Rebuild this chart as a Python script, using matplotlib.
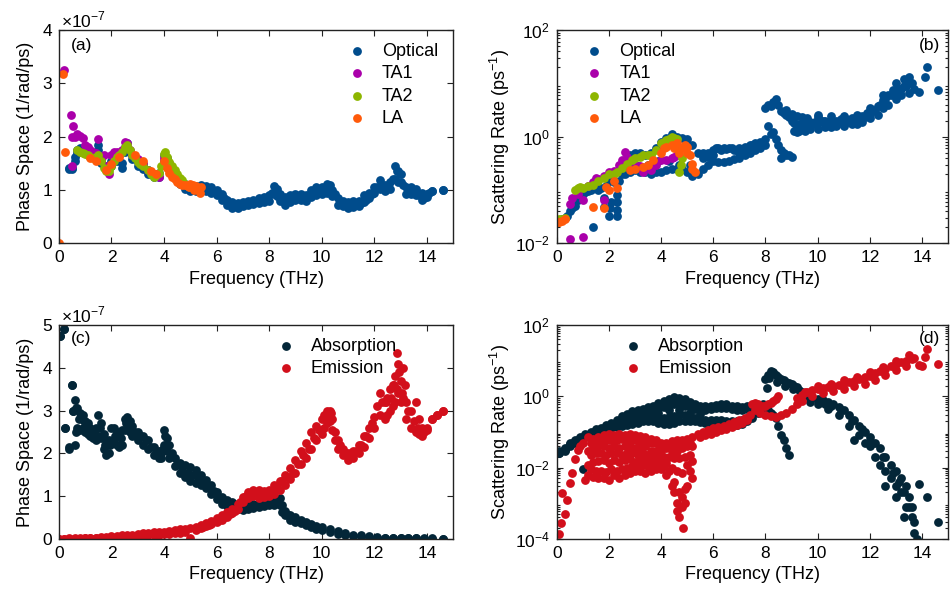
import numpy as np
import matplotlib.pyplot as plt
from matplotlib.ticker import LogLocator, NullFormatter

plt.rcParams['font.family'] = ['Liberation Sans', 'DejaVu Sans']
plt.rcParams['mathtext.fontset'] = 'custom'
plt.rcParams['mathtext.rm'] = 'Liberation Sans'

# ---------------- colours ----------------
C_OPT = '#004c8c'
C_TA1 = '#aa00aa'
C_TA2 = '#8db600'
C_LA = '#ff5a0a'
C_ABS = '#032638'
C_EMI = '#d20f1b'

# ============ (a) phase space per branch, units of 1e-7 ============
opt_a_f = [0.4, 0.5, 0.6, 0.7, 0.8, 1.0, 1.2, 1.4, 1.5, 1.6,
           1.8, 2.0, 2.2, 2.4, 2.5, 2.6, 2.8, 3.0, 3.2, 3.4,
           3.6, 3.8, 4.0, 4.1, 4.2, 4.4, 4.6, 4.8, 5.0, 5.2,
           5.4, 5.6, 5.8, 6.0, 6.2, 6.4, 6.6, 6.8, 7.0, 7.2,
           7.4, 7.6, 7.8, 8.0, 8.2, 8.3, 8.4, 8.6, 8.8, 9.0,
           9.2, 9.4, 9.6, 9.8, 10.0, 10.2, 10.3, 10.4, 10.6, 10.8,
           11.0, 11.2, 11.4, 11.6, 11.8, 12.0, 12.2, 12.4, 12.6, 12.8,
           12.9, 13.0, 13.2, 13.4, 13.6, 13.8, 14.0, 14.2, 14.6]
opt_a_hi = [1.42, 1.42, 1.62, 1.75, 1.78, 1.82, 1.72, 1.65, 1.85, 1.55,
            1.45, 1.55, 1.62, 1.5, 1.8, 1.88, 1.65, 1.52, 1.48, 1.38,
            1.3, 1.32, 1.65, 1.6, 1.48, 1.3, 1.2, 1.12, 1.08, 1.08,
            1.1, 1.08, 1.05, 1.0, 0.92, 0.82, 0.78, 0.75, 0.78, 0.8,
            0.82, 0.84, 0.86, 0.9, 1.08, 1.02, 0.92, 0.86, 0.9, 0.92,
            0.92, 0.9, 1.0, 1.05, 1.05, 1.12, 1.1, 1.0, 0.85, 0.8,
            0.78, 0.8, 0.8, 0.9, 0.95, 1.05, 1.18, 1.1, 1.15, 1.45,
            1.35, 1.3, 1.05, 1.05, 1.02, 0.95, 0.92, 0.98, 1.0]
opt_a_lo = [1.4, 1.4, 1.55, 1.7, 1.72, 1.75, 1.65, 1.58, 1.75, 1.5,
            1.4, 1.45, 1.55, 1.42, 1.72, 1.8, 1.58, 1.45, 1.4, 1.3,
            1.25, 1.25, 1.55, 1.5, 1.4, 1.22, 1.12, 1.02, 0.98, 0.98,
            1.0, 0.98, 0.95, 0.9, 0.82, 0.72, 0.66, 0.66, 0.7, 0.72,
            0.74, 0.76, 0.78, 0.8, 0.92, 0.88, 0.8, 0.72, 0.78, 0.82,
            0.82, 0.8, 0.86, 0.9, 0.92, 0.95, 0.98, 0.88, 0.72, 0.7,
            0.66, 0.68, 0.7, 0.78, 0.84, 0.94, 1.02, 0.98, 1.02, 1.2,
            1.15, 1.15, 0.92, 0.92, 0.9, 0.82, 0.86, 0.98, 1.0]
opt_a_mf = [5.5, 5.7, 5.9, 6.1, 6.3, 6.5, 6.7, 6.9, 7.1, 7.3,
            7.5, 7.7, 7.9, 8.1, 8.25, 8.5, 8.7, 8.9, 9.1, 9.3,
            9.5, 9.7, 9.9, 10.1, 10.25, 10.5, 10.7, 10.9, 11.1, 11.3,
            11.5, 11.7, 11.9, 12.1, 12.3, 12.5, 12.7, 12.85, 13.1, 13.3,
            13.5, 13.7, 13.9, 14.1]
opt_a_my = [1.02, 1.0, 0.98, 0.92, 0.85, 0.75, 0.7, 0.72, 0.75, 0.76,
            0.78, 0.8, 0.84, 0.95, 1.02, 0.82, 0.8, 0.86, 0.88, 0.86,
            0.9, 0.95, 1.0, 1.0, 1.08, 0.92, 0.78, 0.74, 0.7, 0.72,
            0.75, 0.82, 0.92, 1.05, 1.1, 1.05, 1.2, 1.35, 1.1, 0.98,
            0.95, 0.9, 0.85, 0.95]

ta1_a_f = [0.2, 0.45, 0.5, 0.55, 0.6, 0.7, 0.8, 0.9, 1.0, 1.1,
           1.2, 1.3, 1.4, 1.5, 1.6, 1.7, 1.8, 1.9, 2.0, 2.1,
           2.2, 2.3, 2.4, 2.5, 2.6, 2.7, 2.8, 3.0, 3.2, 3.4,
           3.6, 3.8, 4.0, 4.1, 4.2, 0.5]
ta1_a_y = [3.25, 2.4, 2.0, 2.2, 2.0, 2.05, 2.02, 1.98, 1.85, 1.8,
           1.75, 1.72, 1.7, 1.95, 1.6, 1.65, 1.45, 1.3, 1.65, 1.72,
           1.72, 1.7, 1.75, 1.9, 1.88, 1.75, 1.65, 1.58, 1.48, 1.38,
           1.3, 1.25, 1.6, 1.55, 1.5, 1.45]

ta2_a_f = [0.7, 0.8, 0.9, 1.0, 1.1, 1.2, 1.3, 1.4, 1.5, 1.6,
           1.7, 1.8, 1.9, 2.0, 2.1, 2.2, 2.3, 2.4, 2.5, 2.6,
           2.7, 2.8, 2.9, 3.0, 3.1, 3.2, 3.4, 3.5, 3.6, 3.7,
           3.8, 3.9, 4.0, 4.05, 4.1, 4.2, 4.3, 4.4, 4.5, 4.6,
           4.7, 4.8, 4.9, 5.0]
ta2_a_y = [1.75, 1.72, 1.7, 1.68, 1.65, 1.62, 1.6, 1.62, 1.65, 1.55,
           1.42, 1.35, 1.35, 1.45, 1.55, 1.62, 1.65, 1.72, 1.8, 1.85,
           1.75, 1.65, 1.6, 1.52, 1.48, 1.45, 1.38, 1.3, 1.25, 1.28,
           1.32, 1.45, 1.68, 1.72, 1.62, 1.52, 1.45, 1.38, 1.3, 1.22,
           1.18, 1.12, 1.08, 1.05]

la_a_f = [0.02, 0.15, 0.25, 1.2, 1.4, 1.8, 2.0, 2.3, 2.9, 3.2,
          3.5, 3.7, 4.0, 4.1, 4.2, 4.3, 4.4, 4.5, 4.6, 4.7,
          4.8, 4.9, 5.0, 5.1, 5.2, 5.3, 5.4, 4.95, 5.15, 5.35]
la_a_y = [0.0, 3.18, 1.72, 1.6, 1.55, 1.38, 1.48, 1.62, 1.65, 1.55,
          1.35, 1.3, 1.55, 1.42, 1.32, 1.25, 1.2, 1.15, 1.12, 1.1,
          1.1, 1.08, 1.12, 1.1, 1.08, 1.02, 1.05, 1.05, 1.0, 0.95]

# ============ (b) scattering rate per branch (1/ps) ============
opt_b_f = [0.1, 0.2, 0.3, 0.4, 0.5, 0.6, 0.7, 0.8, 0.9, 1.0,
           1.1, 1.2, 1.3, 1.4, 1.5, 1.6, 1.7, 1.8, 1.8, 1.9,
           2.0, 2.0, 2.05, 2.1, 2.2, 2.3, 2.3, 2.3, 2.3, 2.4,
           2.5, 2.6, 2.7,
           2.8, 3.0, 3.2, 3.4, 3.6, 3.8, 4.0, 4.2, 4.4, 4.6, 4.8, 5.0, 5.2, 5.4,
           2.6, 2.8, 3.0, 3.2, 3.4, 3.6, 3.8, 4.0, 4.2, 4.4, 4.6, 4.8, 5.0, 5.2,
           5.4, 5.6, 5.8,
           5.6, 5.8, 6.0, 6.2, 6.4, 6.6, 6.8, 7.0, 7.2, 7.4, 7.6, 7.8, 8.0, 8.2, 8.3,
           6.0, 6.2, 6.4, 6.6, 6.8, 7.0, 7.2, 7.4, 7.6, 7.8, 8.0,
           5.6, 5.8, 6.0, 7.0, 7.5, 7.9,
           8.4, 8.5, 8.6, 8.7, 8.8, 8.9, 9.0, 8.6,
           8.0, 8.1, 8.2, 8.3, 8.4, 8.5, 8.1, 8.6, 8.8, 9.0,
           9.2, 9.3, 9.5, 9.7, 9.9, 10.0, 10.2, 10.0, 10.4, 10.6,
           10.8, 11.0, 11.2, 11.4, 11.6, 11.8, 12.0, 12.2, 12.4, 12.6,
           12.8, 13.0, 13.2, 13.4, 13.6, 13.7, 13.9, 14.1, 14.2, 14.6,
           8.8, 9.0, 9.2, 9.4, 9.6, 10.0, 10.5, 11.0, 11.5, 12.0, 12.5, 13.0, 13.3, 13.5,
           9.2, 9.5, 10.0, 10.5, 11.0, 11.5, 12.0, 12.5, 13.0, 13.5,
           8.7, 8.9, 9.1, 9.3, 9.5, 9.7, 9.9, 10.1, 10.3, 10.5,
           10.7, 10.9, 11.1, 11.3, 11.5, 11.7, 11.9, 12.1, 12.3, 12.5,
           12.7, 12.9, 13.1, 13.3, 13.5, 6.1, 6.3, 6.5, 6.7, 6.9,
           7.1, 7.3, 7.5, 7.7, 3.1, 3.5, 3.9, 4.3, 4.7, 5.1,
           9.1, 9.3, 9.7, 10.3, 10.7, 11.3, 11.7, 12.3, 12.7, 13.2]
opt_b_y = [0.026, 0.028, 0.03, 0.033, 0.04, 0.045, 0.05, 0.065, 0.075, 0.085,
           0.09, 0.095, 0.1, 0.02, 0.11, 0.1, 0.11, 0.07, 0.048, 0.12,
           0.15, 0.032, 0.045, 0.06, 0.14, 0.032, 0.042, 0.06, 0.08, 0.15,
           0.2, 0.25, 0.3,
           0.45, 0.5, 0.5, 0.45, 0.5, 0.6, 0.8, 0.95, 1.1, 1.0, 0.95, 0.9, 0.7, 0.5,
           0.2, 0.22, 0.24, 0.22, 0.22, 0.2, 0.22, 0.22, 0.24, 0.25, 0.25, 0.25, 0.22, 0.18,
           0.2, 0.25, 0.3,
           0.5, 0.5, 0.55, 0.6, 0.6, 0.6, 0.55, 0.6, 0.65, 0.7, 0.75, 0.8, 0.9, 1.1, 1.2,
           0.35, 0.33, 0.33, 0.35, 0.38, 0.4, 0.45, 0.5, 0.55, 0.6, 0.7,
           0.4, 0.42, 0.45, 0.5, 0.62, 0.75,
           0.9, 0.7, 0.55, 0.5, 0.45, 0.45, 0.42, 0.4,
           3.5, 4.0, 3.8, 4.5, 5.0, 4.0, 1.6, 3.0, 2.6, 2.0,
           1.6, 1.5, 1.5, 1.6, 1.7, 1.8, 2.0, 2.6, 1.9, 1.8,
           1.8, 1.9, 1.9, 2.0, 2.1, 2.3, 2.7, 3.2, 4.0, 5.0,
           6.0, 7.0, 8.0, 9.0, 10.0, 8.0, 7.0, 13.0, 20.0, 7.5,
           3.2, 2.7, 2.4, 2.3, 2.2, 2.3, 2.4, 2.4, 2.6, 3.5, 6.0, 10.0, 12.0, 13.0,
           1.2, 1.25, 1.4, 1.5, 1.6, 1.7, 2.2, 3.5, 5.0, 6.5,
           2.8, 2.3, 1.8, 1.7, 1.8, 1.9, 1.9, 2.0, 2.0, 1.9,
           2.0, 2.1, 2.1, 2.2, 2.3, 2.4, 2.8, 3.0, 3.8, 4.8,
           6.0, 7.5, 8.0, 9.0, 10.0, 0.6, 0.55, 0.58, 0.62, 0.55,
           0.58, 0.62, 0.7, 0.72, 0.28, 0.3, 0.35, 0.35, 0.3, 0.3,
           1.3, 1.3, 1.4, 1.5, 1.6, 1.7, 1.9, 2.6, 4.0, 6.0]

ta1_b_f = [0.5, 1.0, 0.5, 0.6, 0.8, 1.0, 1.2, 1.4, 1.5, 1.6,
           1.8, 2.0, 2.2, 2.4, 2.5, 2.6, 2.7, 2.8, 3.0, 3.2,
           3.5, 3.8, 4.0, 4.2, 4.4, 4.5, 4.6, 1.8, 3.3, 3.6]
ta1_b_y = [0.012, 0.013, 0.055, 0.07, 0.085, 0.064, 0.12, 0.14, 0.17, 0.16,
           0.064, 0.22, 0.23, 0.3, 0.36, 0.52, 0.42, 0.3, 0.3, 0.28,
           0.27, 0.3, 0.36, 0.36, 0.4, 0.42, 0.45, 0.18, 0.22, 0.24]

ta2_b_f = [0.1, 0.2, 0.3, 0.7, 0.8, 0.9, 1.0, 1.2, 1.4, 1.6,
           1.8, 2.0, 2.2, 2.3, 2.5, 2.7, 2.9, 3.0, 3.2, 3.3,
           3.5, 3.6, 3.8, 4.0, 4.1, 4.2, 4.3, 4.4, 4.5, 4.6,
           4.7, 4.8, 4.7, 4.75]
ta2_b_y = [0.028, 0.029, 0.03, 0.1, 0.11, 0.115, 0.11, 0.12, 0.125, 0.15,
           0.17, 0.2, 0.2, 0.22, 0.26, 0.31, 0.36, 0.39, 0.42, 0.45,
           0.45, 0.46, 0.55, 0.75, 0.8, 0.87, 0.9, 1.0, 0.95, 0.9,
           0.6, 0.4, 0.22, 0.3]

la_b_f = [0.05, 0.1, 0.2, 0.3, 1.4, 1.8, 1.9, 2.0, 2.2, 2.3,
          2.8, 3.0, 3.3, 3.5, 3.7, 4.0, 4.1, 4.2, 4.4, 4.5,
          4.6, 4.8, 4.9, 5.0, 5.1, 5.2, 5.3, 5.2, 5.0, 4.7]
la_b_y = [0.025, 0.025, 0.026, 0.028, 0.048, 0.045, 0.115, 0.1, 0.15, 0.11,
          0.24, 0.25, 0.27, 0.3, 0.36, 0.5, 0.6, 0.65, 0.7, 0.6,
          0.75, 0.6, 0.7, 0.49, 0.45, 0.31, 0.22, 0.25, 0.65, 0.5]

# ============ (c) absorption / emission phase space, units of 1e-7 ============
abs_c_f = [0.05, 0.2, 0.25, 0.4, 0.5, 0.55, 0.6, 0.65, 0.7, 0.8,
           0.9, 1.0, 1.1, 1.2, 1.3, 1.4, 1.5, 1.6, 1.7, 1.8,
           1.9, 2.0, 2.1, 2.2, 2.3, 2.4, 2.5, 2.6, 2.7, 2.8,
           3.0, 3.2, 3.4, 3.6, 3.8, 3.9, 4.0, 4.1, 4.2, 4.4,
           4.6, 4.8, 5.0, 5.2, 5.4, 5.6, 5.8, 6.0, 6.2, 6.4,
           6.6, 6.8, 7.0, 7.2, 7.4, 7.6, 7.8, 8.0, 8.2, 8.4,
           8.5, 8.6, 8.8, 9.0, 9.2, 9.4, 9.6, 9.8, 10.0, 10.3,
           10.6, 10.9, 11.2, 11.5, 11.8, 12.1, 12.4, 12.7, 13.0, 13.3,
           13.6, 13.9, 14.2, 14.6]
abs_c_hi = [4.75, 4.9, 2.6, 2.15, 3.6, 3.0, 3.25, 3.05, 3.05, 2.95,
            2.9, 2.75, 2.7, 2.6, 2.55, 2.6, 2.9, 2.7, 2.45, 2.3,
            2.3, 2.6, 2.6, 2.5, 2.45, 2.55, 2.8, 2.85, 2.75, 2.65,
            2.5, 2.4, 2.3, 2.15, 2.05, 2.0, 2.55, 2.35, 2.2, 1.9,
            1.78, 1.72, 1.68, 1.6, 1.5, 1.38, 1.25, 1.1, 0.98, 0.9,
            0.85, 0.82, 0.8, 0.8, 0.82, 0.84, 0.85, 0.88, 0.92, 0.95,
            0.78, 0.65, 0.55, 0.5, 0.45, 0.4, 0.35, 0.3, 0.28, 0.22,
            0.18, 0.14, 0.1, 0.08, 0.06, 0.04, 0.03, 0.025, 0.02, 0.015,
            0.01, 0.01, 0.01, 0.0]
abs_c_lo = [4.75, 4.9, 2.6, 2.1, 3.6, 3.0, 2.2, 2.5, 2.6, 2.55,
            2.6, 2.5, 2.45, 2.4, 2.35, 2.3, 2.4, 2.35, 2.1, 1.95,
            2.0, 2.25, 2.3, 2.2, 2.15, 2.2, 2.55, 2.6, 2.5, 2.4,
            2.3, 2.2, 2.1, 1.95, 1.88, 1.9, 2.2, 2.05, 1.9, 1.7,
            1.55, 1.45, 1.35, 1.3, 1.25, 1.18, 1.05, 0.92, 0.82, 0.76,
            0.72, 0.7, 0.68, 0.7, 0.72, 0.74, 0.76, 0.78, 0.8, 0.8,
            0.62, 0.55, 0.45, 0.4, 0.36, 0.32, 0.28, 0.24, 0.2, 0.16,
            0.12, 0.09, 0.07, 0.05, 0.04, 0.03, 0.02, 0.015, 0.01, 0.01,
            0.01, 0.005, 0.005, 0.0]
abs_c_mf = [0.75, 0.95, 1.15, 1.35, 1.55, 1.75, 1.95, 2.15, 2.35, 2.55,
            2.75, 2.9, 3.1, 3.3, 3.5, 3.7, 3.95, 4.05, 4.3, 4.5,
            4.7, 4.9, 5.1, 5.3, 5.5, 5.7, 5.9, 6.1, 6.3, 6.5,
            6.7, 6.9, 7.1, 7.3, 7.5, 7.7, 7.9, 8.1, 8.3, 8.7]
abs_c_my = [2.8, 2.75, 2.6, 2.5, 2.6, 2.2, 2.2, 2.4, 2.35, 2.7,
            2.6, 2.5, 2.4, 2.3, 2.15, 2.0, 2.1, 2.4, 2.0, 1.75,
            1.62, 1.55, 1.5, 1.42, 1.35, 1.22, 1.12, 0.95, 0.86, 0.8,
            0.76, 0.74, 0.74, 0.75, 0.77, 0.8, 0.82, 0.85, 0.88, 0.55]

emi_c_f = [0.0, 0.2, 0.4, 0.6, 0.8, 1.0, 1.2, 1.4, 1.6, 1.8,
           2.0, 2.2, 2.4, 2.6, 2.8, 3.0, 3.2, 3.4, 3.6, 3.8,
           4.0, 4.2, 4.4, 4.6, 4.8, 5.0, 5.2, 5.4, 5.6, 5.8,
           6.0, 6.2, 6.4, 6.6, 6.8, 7.0, 7.2, 7.4, 7.6, 7.8,
           8.0, 8.2, 8.4, 8.6, 8.8, 9.0, 9.2, 9.4, 9.6, 9.8,
           10.0, 10.1, 10.2, 10.3, 10.4, 10.5, 10.6, 10.8, 11.0, 11.2,
           11.4, 11.6, 11.8, 12.0, 12.2, 12.4, 12.5, 12.6, 12.7, 12.8,
           12.85, 12.9, 13.0, 13.1, 13.2, 13.4, 13.6, 13.7, 13.8, 14.0,
           14.2, 14.4, 14.6]
emi_c_hi = [0.0, 0.0, 0.01, 0.01, 0.02, 0.02, 0.03, 0.03, 0.04, 0.05,
            0.06, 0.07, 0.08, 0.09, 0.1, 0.12, 0.13, 0.14, 0.15, 0.16,
            0.17, 0.18, 0.2, 0.22, 0.24, 0.26, 0.28, 0.32, 0.36, 0.42,
            0.48, 0.55, 0.62, 0.7, 0.82, 0.98, 1.1, 1.15, 1.15, 1.12,
            1.15, 1.25, 1.35, 1.5, 1.65, 1.85, 2.05, 2.25, 2.5, 2.65,
            2.8, 2.9, 3.0, 3.0, 2.8, 2.5, 2.3, 2.1, 2.0, 2.05,
            2.2, 2.4, 2.6, 2.85, 3.4, 3.2, 3.3, 3.5, 3.6, 3.8,
            4.35, 4.1, 3.7, 4.0, 3.2, 3.0, 3.2, 2.8, 2.6, 2.6,
            2.8, 2.9, 3.0]
emi_c_lo = [0.0, 0.0, 0.0, 0.0, 0.0, 0.01, 0.01, 0.01, 0.02, 0.02,
            0.03, 0.03, 0.04, 0.05, 0.05, 0.06, 0.07, 0.08, 0.09, 0.1,
            0.11, 0.12, 0.13, 0.14, 0.15, 0.03, 0.2, 0.25, 0.3, 0.35,
            0.4, 0.45, 0.52, 0.6, 0.7, 0.85, 0.95, 1.0, 0.95, 0.98,
            1.0, 1.05, 1.15, 1.25, 1.4, 1.55, 1.75, 1.9, 2.1, 2.3,
            2.45, 2.6, 2.7, 2.75, 2.55, 2.3, 2.1, 1.95, 1.85, 1.9,
            2.0, 2.15, 2.35, 2.6, 2.9, 2.8, 2.9, 3.0, 3.1, 3.2,
            3.5, 3.4, 3.2, 3.3, 2.8, 2.6, 2.5, 2.45, 2.4, 2.55,
            2.8, 2.9, 3.0]
emi_c_mf = [6.9, 7.1, 7.3, 7.5, 7.7, 7.9, 8.1, 8.3, 8.5, 8.7,
            8.9, 9.1, 9.3, 9.5, 9.7, 9.9, 10.15, 10.35, 10.7, 10.9,
            11.1, 11.3, 11.5, 11.7, 11.9, 12.1, 12.3, 12.45, 12.65, 12.75,
            12.95, 13.05, 13.15, 13.3, 13.5, 13.65, 13.9, 5.3, 5.5, 5.7,
            6.1, 6.3, 6.5, 6.7]
emi_c_my = [0.85, 1.0, 1.05, 1.1, 1.05, 1.05, 1.1, 1.2, 1.35, 1.45,
            1.55, 1.75, 1.95, 2.1, 2.35, 2.55, 2.9, 2.95, 2.2, 2.0,
            1.95, 2.05, 2.2, 2.4, 2.7, 3.1, 3.2, 3.2, 3.3, 3.6,
            3.9, 3.4, 3.6, 3.0, 2.75, 2.6, 2.5, 0.25, 0.28, 0.33,
            0.45, 0.5, 0.58, 0.65]

# ============ (d) absorption / emission scattering rate (1/ps) ============
abs_d_f = [0.1, 0.3, 0.5, 0.7, 0.9, 1.1, 1.3, 1.5, 1.7, 1.9,
           2.1, 2.3, 2.5, 2.7, 2.9, 3.1, 3.3, 3.5, 3.7, 3.9,
           4.1, 4.3, 4.5, 4.7, 4.9, 5.1, 5.3, 5.5, 5.7, 5.9,
           6.1, 6.3, 6.5, 6.7, 6.9, 7.1, 7.3, 7.5, 7.7, 7.9]
abs_d_hi = [0.03, 0.035, 0.05, 0.06, 0.07, 0.09, 0.1, 0.12, 0.13, 0.16,
            0.18, 0.22, 0.28, 0.32, 0.38, 0.4, 0.45, 0.5, 0.55, 0.65,
            0.75, 0.85, 0.95, 0.9, 0.85, 0.7, 0.6, 0.55, 0.55, 0.55,
            0.58, 0.6, 0.6, 0.55, 0.52, 0.5, 0.52, 0.55, 0.5, 0.45]
abs_d_m1 = [0.028, 0.033, 0.047, 0.057, 0.067, 0.082, 0.093, 0.11, 0.12, 0.14,
            0.16, 0.19, 0.23, 0.26, 0.3, 0.32, 0.36, 0.4, 0.42, 0.45,
            0.5, 0.55, 0.6, 0.6, 0.55, 0.5, 0.45, 0.42, 0.42, 0.44,
            0.46, 0.48, 0.46, 0.44, 0.42, 0.42, 0.44, 0.48, 0.45, 0.45]
abs_d_m2 = [0.026, 0.031, 0.042, 0.052, 0.062, 0.075, 0.085, 0.095, 0.107, 0.12,
            0.14, 0.155, 0.17, 0.19, 0.21, 0.22, 0.24, 0.25, 0.26, 0.25,
            0.25, 0.26, 0.28, 0.3, 0.3, 0.28, 0.25, 0.22, 0.22, 0.22,
            0.22, 0.21, 0.2, 0.2, 0.2, 0.21, 0.24, 0.3, 0.4, 0.45]
abs_d_lo = [0.025, 0.03, 0.04, 0.05, 0.06, 0.07, 0.08, 0.09, 0.1, 0.11,
            0.13, 0.14, 0.15, 0.16, 0.17, 0.18, 0.2, 0.2, 0.2, 0.18,
            0.17, 0.17, 0.18, 0.2, 0.2, 0.2, 0.2, 0.19, 0.18, 0.18,
            0.18, 0.18, 0.17, 0.16, 0.16, 0.17, 0.2, 0.25, 0.35, 0.45]
abs_d_x_f = [3.5, 3.9, 4.3, 4.7, 5.1, 5.5, 3.9, 4.3, 4.7, 1.0,
             8.0, 8.05, 8.1, 8.2, 8.3, 8.4, 8.5, 8.6, 8.7, 8.8,
             8.9, 9.0, 9.1, 9.2, 9.3, 9.4, 9.5, 9.6, 9.8, 10.0,
             10.2, 10.4, 10.6, 10.8, 11.0, 11.2, 11.4, 11.6, 11.8, 12.0,
             12.2, 12.4, 12.6, 12.8, 13.0, 13.2, 13.4, 13.5, 13.6, 13.7,
             13.8, 13.9, 14.2, 14.6,
             10.0, 10.4, 10.8, 11.2, 11.4, 11.6, 11.8, 12.0, 12.2, 12.4,
             12.6, 12.8, 13.0, 13.2, 13.4, 13.6, 13.7,
             7.9, 8.0, 8.1, 8.2, 8.3, 8.4, 8.5, 8.6, 8.7, 8.8, 8.9,
             10.1, 10.5, 10.9, 11.3, 11.7, 12.1, 12.5, 12.9, 13.1, 13.3, 13.5,
             8.15, 8.45, 8.75, 9.05, 9.35, 9.7, 10.3, 12.6, 13.0, 13.3]
abs_d_x_y = [0.32, 0.35, 0.4, 0.4, 0.35, 0.32, 0.55, 0.6, 0.6, 0.009,
             3.0, 1.7, 4.0, 5.0, 4.8, 4.0, 3.5, 3.0, 2.8, 2.5,
             2.4, 2.2, 2.0, 1.8, 1.5, 1.3, 1.1, 1.0, 0.9, 0.85,
             0.8, 0.7, 0.6, 0.5, 0.4, 0.3, 0.22, 0.15, 0.1, 0.07,
             0.05, 0.035, 0.02, 0.012, 0.008, 0.005, 0.003, 0.0015, 0.0008, 0.0003,
             0.0001, 0.0035, 0.0015, 0.0003,
             0.6, 0.45, 0.3, 0.15, 0.06, 0.08, 0.05, 0.04, 0.02, 0.012,
             0.008, 0.005, 0.003, 0.002, 0.0008, 0.0004, 0.00015,
             0.6, 0.5, 0.4, 0.35, 0.3, 0.25, 0.15, 0.08, 0.06, 0.035, 0.022,
             0.7, 0.55, 0.4, 0.2, 0.12, 0.05, 0.02, 0.007, 0.004, 0.002, 0.0008,
             3.2, 2.5, 2.0, 1.6, 1.2, 0.7, 0.6, 0.003, 0.0015, 0.0004]

emi_d_f = [0.1, 0.15, 0.2, 0.3, 0.4, 0.5, 0.6, 0.7, 0.8, 0.9, 1.0, 1.1,
           4.5, 4.6, 4.7, 4.8, 4.85, 4.9,
           5.4, 5.6, 5.8, 6.0, 6.2, 6.4, 6.6, 6.8, 7.0, 7.2,
           7.4, 7.5, 7.6, 7.7, 7.8, 7.9, 8.0, 8.1, 8.2, 8.3, 8.4, 8.5,
           7.6, 7.8, 8.0, 8.2, 8.4, 8.6, 8.8, 9.0, 9.2,
           9.2, 9.4, 9.6, 9.8, 10.0, 10.2, 10.4, 10.6, 10.8, 11.0,
           11.2, 11.4, 11.6, 11.8, 12.0, 12.2, 12.4, 12.6, 12.8, 13.0,
           13.2, 13.4, 13.6, 13.7, 13.9, 14.0, 14.1, 14.2, 14.6,
           9.4, 9.8, 10.2, 10.6, 11.0, 11.4, 11.8, 12.2, 12.6, 13.0, 13.4,
           5.5, 5.7, 5.9, 6.1, 6.3, 6.5, 6.7, 6.9, 7.1, 7.3,
           9.5, 10.0, 10.5, 11.0, 11.5, 12.0, 12.5, 13.0, 13.5]
emi_d_y = [0.00014, 0.00027, 0.0019, 0.0005, 0.0012, 0.0036, 0.007, 0.017, 0.032, 0.04, 0.05, 0.0046,
           0.002, 0.0006, 0.0004, 0.0015, 0.0002, 0.001,
           0.09, 0.1, 0.11, 0.13, 0.14, 0.15, 0.17, 0.19, 0.22, 0.25,
           0.3, 0.6, 0.65, 0.6, 0.55, 0.55, 0.55, 0.6, 0.65, 0.75, 0.85, 1.0,
           0.4, 0.33, 0.3, 0.28, 0.27, 0.3, 0.35, 0.45, 0.6,
           0.9, 1.1, 1.3, 1.5, 1.6, 1.7, 1.8, 1.95, 2.1, 2.3,
           2.5, 2.7, 3.0, 3.4, 3.8, 4.5, 5.2, 6.0, 7.0, 8.0,
           9.0, 10.0, 11.0, 12.0, 7.5, 7.0, 13.0, 21.0, 8.0,
           0.75, 1.0, 1.2, 1.4, 1.6, 1.9, 2.2, 2.8, 4.0, 5.5, 7.0,
           0.07, 0.08, 0.09, 0.1, 0.11, 0.12, 0.14, 0.16, 0.18, 0.22,
           1.3, 1.9, 2.2, 2.8, 3.5, 4.8, 6.5, 10.0, 14.0]

# emission band between 1 and 5.3 THz (several rows from top to bottom)
emi_band_f = [1.2, 1.4, 1.6, 1.8, 2.0, 2.2, 2.4, 2.6, 2.8, 3.0,
              3.2, 3.4, 3.6, 3.8, 4.0, 4.2, 4.4, 4.6, 4.8, 5.0, 5.2]
emi_band_hi = [0.07, 0.065, 0.07, 0.08, 0.085, 0.08, 0.09, 0.08, 0.085, 0.08,
               0.075, 0.07, 0.065, 0.06, 0.05, 0.05, 0.055, 0.06, 0.06, 0.065, 0.07]
emi_band_m1 = [0.03, 0.035, 0.04, 0.04, 0.035, 0.04, 0.035, 0.04, 0.04, 0.035,
               0.035, 0.04, 0.03, 0.03, 0.03, 0.035, 0.03, 0.03, 0.035, 0.04, 0.04]
emi_band_m2 = [0.012, 0.014, 0.015, 0.016, 0.013, 0.016, 0.014, 0.016, 0.017, 0.014,
               0.015, 0.017, 0.014, 0.014, 0.014, 0.013, 0.01, 0.008, 0.007, 0.012, 0.015]
emi_band_lo = [0.006, 0.0055, 0.005, 0.005, 0.0045, 0.006, 0.005, 0.006, 0.007, 0.008,
               0.008, 0.007, 0.008, 0.009, 0.009, 0.006, 0.003, 0.001, 0.0008, 0.003, 0.005]
emi_band_f2 = [1.3, 1.5, 1.7, 1.9, 2.1, 2.3, 2.5, 2.7, 2.9, 3.1,
               3.3, 3.5, 3.7, 3.9, 4.1, 4.3, 4.5, 4.7, 4.9, 5.1]
emi_band_n1 = [0.05, 0.05, 0.055, 0.06, 0.06, 0.06, 0.065, 0.06, 0.06, 0.055,
               0.055, 0.05, 0.05, 0.045, 0.04, 0.04, 0.04, 0.045, 0.045, 0.05]
emi_band_n2 = [0.022, 0.025, 0.025, 0.022, 0.025, 0.025, 0.022, 0.025, 0.025, 0.022,
               0.025, 0.022, 0.02, 0.02, 0.02, 0.02, 0.018, 0.018, 0.02, 0.022]
emi_band_n3 = [0.009, 0.008, 0.008, 0.0075, 0.009, 0.008, 0.009, 0.01, 0.011, 0.011,
               0.012, 0.011, 0.012, 0.012, 0.011, 0.008, 0.004, 0.002, 0.0025, 0.008]

MS = 40


def dots(ax, f, y, color, label=None):
    ax.scatter(f, y, s=MS, c=color, linewidths=0, label=label, zorder=2)


def style(ax, log=False):
    ax.set_xlim(0, 15)
    ax.set_xticks([0, 2, 4, 6, 8, 10, 12, 14])
    ax.tick_params(which='both', direction='in', top=True, right=True,
                   labelsize=12.5, width=0.8, color='#222222', pad=5)
    ax.tick_params(which='major', length=4.5)
    ax.tick_params(which='minor', length=2.5)
    for s in ax.spines.values():
        s.set_linewidth(1.0)
        s.set_color('#222222')
    ax.set_xlabel('Frequency (THz)', fontsize=13, labelpad=4)
    if log:
        ax.set_yscale('log')
        ax.yaxis.set_minor_locator(LogLocator(base=10, subs=np.arange(2, 10), numticks=20))
        ax.yaxis.set_minor_formatter(NullFormatter())


fig = plt.figure(figsize=(9.5, 6.02), dpi=100)
axa = fig.add_axes([0.062, 0.596, 0.415, 0.354])
axb = fig.add_axes([0.586, 0.596, 0.412, 0.354])
axc = fig.add_axes([0.062, 0.105, 0.415, 0.355])
axd = fig.add_axes([0.586, 0.105, 0.412, 0.355])

leg_kw = dict(frameon=False, fontsize=13, handletextpad=0.9, handlelength=1.0,
              labelspacing=0.3, borderaxespad=0.3, scatterpoints=1)

# (a)
dots(axa, opt_a_f, opt_a_hi, C_OPT, 'Optical')
dots(axa, opt_a_f, opt_a_lo, C_OPT)
dots(axa, opt_a_mf, opt_a_my, C_OPT)
dots(axa, ta1_a_f, ta1_a_y, C_TA1, 'TA1')
dots(axa, ta2_a_f, ta2_a_y, C_TA2, 'TA2')
dots(axa, la_a_f, la_a_y, C_LA, 'LA')
style(axa)
axa.set_ylim(0, 4)
axa.set_yticks([0, 1, 2, 3, 4])
axa.set_ylabel('Phase Space (1/rad/ps)', fontsize=13, labelpad=6)
axa.text(0.005, 1.0, r'$\times$10$^{-7}$', transform=axa.transAxes, ha='left', va='bottom', fontsize=12.5)
axa.text(0.03, 0.93, '(a)', transform=axa.transAxes, ha='left', va='center', fontsize=12.5)
axa.legend(loc='upper left', bbox_to_anchor=(0.7, 1.0), **leg_kw)

# (b)
dots(axb, opt_b_f, opt_b_y, C_OPT, 'Optical')
dots(axb, ta1_b_f, ta1_b_y, C_TA1, 'TA1')
dots(axb, ta2_b_f, ta2_b_y, C_TA2, 'TA2')
dots(axb, la_b_f, la_b_y, C_LA, 'LA')
style(axb, log=True)
axb.set_ylim(1e-2, 1e2)
axb.set_yticks([1e-2, 1e0, 1e2])
axb.set_ylabel('Scattering Rate (ps$^{-1}$)', fontsize=13, labelpad=2)
axb.text(0.98, 0.93, '(b)', transform=axb.transAxes, ha='right', va='center', fontsize=12.5)
axb.legend(loc='upper left', bbox_to_anchor=(0.04, 1.0), **leg_kw)

# (c)
dots(axc, abs_c_f, abs_c_hi, C_ABS, 'Absorption')
dots(axc, abs_c_f, abs_c_lo, C_ABS)
dots(axc, abs_c_mf, abs_c_my, C_ABS)
dots(axc, emi_c_f, emi_c_hi, C_EMI, 'Emission')
dots(axc, emi_c_f, emi_c_lo, C_EMI)
dots(axc, emi_c_mf, emi_c_my, C_EMI)
style(axc)
axc.set_ylim(0, 5)
axc.set_yticks([0, 1, 2, 3, 4, 5])
axc.set_ylabel('Phase Space (1/rad/ps)', fontsize=13, labelpad=6)
axc.text(0.005, 1.0, r'$\times$10$^{-7}$', transform=axc.transAxes, ha='left', va='bottom', fontsize=12.5)
axc.text(0.03, 0.935, '(c)', transform=axc.transAxes, ha='left', va='center', fontsize=12.5)
axc.legend(loc='upper left', bbox_to_anchor=(0.52, 1.0), **leg_kw)

# (d)
for band in (abs_d_hi, abs_d_m1, abs_d_m2, abs_d_lo):
    dots(axd, abs_d_f, band, C_ABS)
dots(axd, abs_d_x_f, abs_d_x_y, C_ABS, 'Absorption')
dots(axd, emi_d_f, emi_d_y, C_EMI, 'Emission')
for band in (emi_band_hi, emi_band_m1, emi_band_m2, emi_band_lo):
    dots(axd, emi_band_f, band, C_EMI)
for band in (emi_band_n1, emi_band_n2, emi_band_n3):
    dots(axd, emi_band_f2, band, C_EMI)
style(axd, log=True)
axd.set_ylim(1e-4, 1e2)
axd.set_yticks([1e-4, 1e-2, 1e0, 1e2])
axd.set_ylabel('Scattering Rate (ps$^{-1}$)', fontsize=13, labelpad=2)
axd.text(0.98, 0.935, '(d)', transform=axd.transAxes, ha='right', va='center', fontsize=12.5)
axd.legend(loc='upper left', bbox_to_anchor=(0.14, 1.0), **leg_kw)

fig.savefig('out.png', dpi=100)
